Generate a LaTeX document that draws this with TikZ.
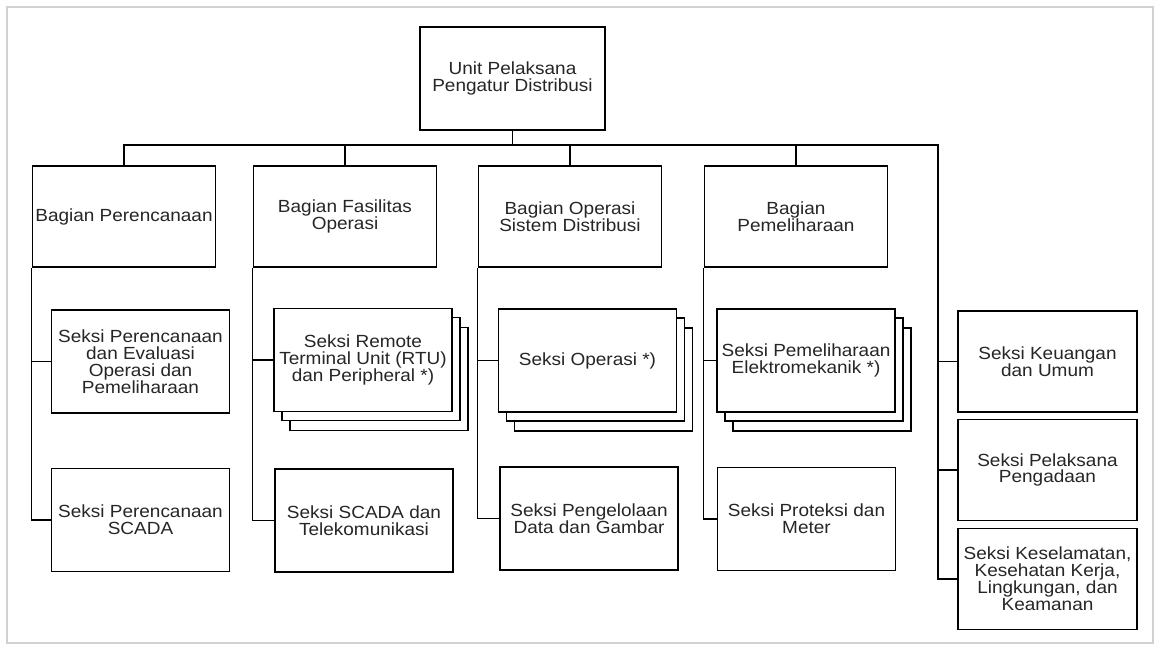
\documentclass[tikz,border=0pt]{standalone}
\usepackage{fontspec}
\setmainfont{Liberation Sans}[FakeStretch=1.08]
\usetikzlibrary{shadows}

\begin{document}
\begin{tikzpicture}[x=0.025cm, y=-0.025cm, line width=1.3pt,
  font=\fontsize{12.5}{12}\selectfont,
  box/.style={rectangle, draw=black, fill=white, align=center, inner sep=1pt, text=black!85},
  topbox/.style={box, minimum width=4.625cm, minimum height=2.575cm},
  bag/.style={box, minimum width=4.575cm, minimum height=2.525cm},
  sek/.style={box, minimum width=4.45cm, minimum height=2.575cm},
  sekr/.style={box, minimum width=4.475cm, minimum height=2.525cm},
  stack/.style={general shadow={shadow xshift=0.4cm, shadow yshift=-0.475cm,
                  fill=white, draw=black, line width=1.3pt},
                general shadow={shadow xshift=0.2cm, shadow yshift=-0.225cm,
                  fill=white, draw=black, line width=1.3pt}}]
  \useasboundingbox (0,0) rectangle (1160,654);
  \draw[black!18, line width=1pt] (7,7) rectangle (1153,643);
  % top and bagian
  \node[topbox] (upd) at (512.5,78.5) {Unit Pelaksana\\Pengatur Distribusi};
  \node[bag] (bren) at (124,216.5) {Bagian Perencanaan};
  \node[bag] (bfas) at (345,216.5) {Bagian Fasilitas\\Operasi};
  \node[bag] (bops) at (570,216.5) {Bagian Operasi\\Sistem Distribusi};
  \node[bag] (bpem) at (796,216.5) {Bagian\\Pemeliharaan};
  % seksi, first row
  \node[sek] (sevl) at (140.5,361.5) {Seksi Perencanaan\\dan Evaluasi\\Operasi dan\\Pemeliharaan};
  \node[sek, stack] (srtu) at (363,360) {Seksi Remote\\Terminal Unit (RTU)\\dan Peripheral *)};
  \node[sek, stack] (sops) at (587.5,360.5) {Seksi Operasi *)};
  \node[sek, stack] (selk) at (806,360.5) {Seksi Pemeliharaan\\Elektromekanik *)};
  % seksi, second row
  \node[sek] (sscd) at (140.5,520) {Seksi Perencanaan\\SCADA};
  \node[sek] (stel) at (364,520.5) {Seksi SCADA dan\\Telekomunikasi};
  \node[sek] (sdat) at (589,518.5) {Seksi Pengelolaan\\Data dan Gambar};
  \node[sek] (smtr) at (806.5,519) {Seksi Proteksi dan\\Meter};
  % seksi under the unit
  \node[sekr] (sku) at (1047.5,361.5) {Seksi Keuangan\\dan Umum};
  \node[sekr] (spd) at (1047.5,470) {Seksi Pelaksana\\Pengadaan};
  \node[sekr] (sk3) at (1047.5,579) {Seksi Keselamatan,\\Kesehatan Kerja,\\Lingkungan, dan\\Keamanan};
  % lines
  \coordinate (bus) at (938,145);
  \draw (upd.south) -- (upd.south |- bus);
  \draw (bren.north) |- (bus) |- (sk3.west);
  \foreach \n in {bfas,bops,bpem} \draw (\n.north) -- (\n.north |- bus);
  \foreach \n in {sku,spd} \draw (bus |- \n.west) -- (\n.west);
  \foreach \b/\s/\t in {bren/sevl/sscd, bfas/srtu/stel, bops/sops/sdat, bpem/selk/smtr} {
    \draw (\b.south west) |- (\t.west);
    \draw (\b.south west |- \s.west) -- (\s.west);
  }
\end{tikzpicture}
\end{document}
